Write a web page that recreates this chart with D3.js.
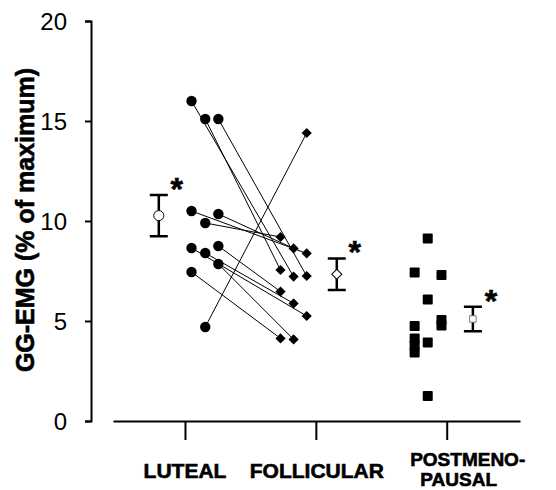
<!DOCTYPE html>
<html>
<head>
<meta charset="utf-8">
<script src="https://cdn.jsdelivr.net/npm/d3@7"></script>
<style>
  body { margin: 0; background: #fff; }
  text { font-family: "Liberation Sans", Arial, Helvetica, sans-serif; fill: #000; }
  .axis path, .axis line { stroke: #000; stroke-width: 2; }
  .axis text { font-size: 24px; }
  .heavy { font-weight: bold; stroke: #000; stroke-width: 0.6; }
  .pair { stroke: #000; stroke-width: 1; }
  .bar { stroke: #000; stroke-width: 2.5; fill: none; }
</style>
</head>
<body>
<div id="chart"></div>
<script>
var width = 556,
    height = 490;

// groups along the x axis
var groups = ["LUTEAL", "FOLLICULAR", "POSTMENOPAUSAL"];
var groupLabels = [["LUTEAL"], ["FOLLICULAR"], ["POSTMENO-", "PAUSAL"]];

// paired subjects, luteal vs follicular (% of maximum)
var lutealValues     = [16.0, 15.1, 15.1, 10.5, 10.35, 9.9, 8.65, 8.4, 8.75, 7.85, 7.45, 4.7];
var lutealSlot       = [0, 1, 2, 0, 2, 1, 0, 1, 2, 2, 0, 1];
var follicularValues = [7.22, 7.55, 7.25, 8.38, 8.63, 9.2, 5.25, 5.88, 6.47, 4.08, 4.13, 14.4];
var follicularSlot   = [1, 0, 2, 2, 1, 0, 2, 1, 0, 1, 0, 2];

// postmenopausal subjects
var postValues = [9.13, 7.43, 7.3, 6.08, 5.05, 4.77, 4.75, 4.13, 3.78, 3.43, 3.92, 1.25];
var postSlot   = [1, 0, 2, 1, 2, 2, 0, 0, 0, 0, 1, 1];

// group mean and SEM
var means = [10.27, 7.34, 5.1];
var sems  = [1.03, 0.79, 0.61];

var yTicks = [0, 5, 10, 15, 20];

// small horizontal offsets so the marks sit beside the tick
var slotOffset = [[0.05, 0.155, 0.255], [-0.27, -0.17, -0.07], [-0.245, -0.145, -0.04]];
var meanOffset = [-0.2, 0.16, 0.2];

var x = d3.scaleLinear().domain([-0.55, 2.56]).range([113, 520]);
var y = d3.scaleLinear().domain([0, 20]).range([421, 21]);

var svg = d3.select("#chart").append("svg")
    .attr("width", width)
    .attr("height", height);

// y axis
svg.append("g")
    .attr("class", "axis")
    .attr("transform", "translate(91,0)")
    .call(d3.axisLeft(y).tickValues(yTicks).tickSize(6).tickPadding(18))
    .selectAll("text").attr("dy", "0.36em");

// x axis, no end ticks
svg.append("g")
    .attr("class", "axis")
    .attr("transform", "translate(0,421)")
    .call(d3.axisBottom(x).tickValues([0, 1, 2]).tickSizeInner(19).tickSizeOuter(0).tickFormat(""));

var labelBase = [478, 478, 466],
    labelSize = [21, 21, 19],
    labelShift = [[0], [1], [21, 12]];
groupLabels.forEach(function(lines, i) {
  var t = svg.append("text")
      .attr("class", "heavy")
      .attr("text-anchor", "middle")
      .style("font-size", labelSize[i] + "px");
  lines.forEach(function(s, j) {
    t.append("tspan")
        .attr("x", x(i) + labelShift[i][j])
        .attr("y", labelBase[i] + j * 20)
        .text(s);
  });
});

// y axis title
svg.append("text")
    .attr("class", "heavy")
    .attr("transform", "translate(34,220) rotate(-90)")
    .attr("text-anchor", "middle")
    .style("font-size", "25px")
    .text("GG-EMG (% of maximum)");

// pairs
var subjects = lutealValues.map(function(v, i) {
  return {
    x1: x(0 + slotOffset[0][lutealSlot[i]]), y1: y(v),
    x2: x(1 + slotOffset[1][follicularSlot[i]]), y2: y(follicularValues[i])
  };
});

svg.append("g").selectAll("line")
    .data(subjects)
  .enter().append("line")
    .attr("class", "pair")
    .attr("x1", function(d) { return d.x1; })
    .attr("y1", function(d) { return d.y1; })
    .attr("x2", function(d) { return d.x2; })
    .attr("y2", function(d) { return d.y2; });

svg.append("g").selectAll("circle")
    .data(subjects)
  .enter().append("circle")
    .attr("cx", function(d) { return d.x1; })
    .attr("cy", function(d) { return d.y1; })
    .attr("r", 5.2)
    .attr("fill", "#000");

var diamond = d3.symbol().type(d3.symbolSquare).size(52);
svg.append("g").selectAll("path")
    .data(subjects)
  .enter().append("path")
    .attr("d", diamond)
    .attr("transform", function(d) { return "translate(" + d.x2 + "," + d.y2 + ") rotate(45)"; })
    .attr("fill", "#000");

svg.append("g").selectAll("rect")
    .data(postValues)
  .enter().append("rect")
    .attr("x", function(d, i) { return x(2 + slotOffset[2][postSlot[i]]) - 5; })
    .attr("y", function(d) { return y(d) - 5; })
    .attr("width", 10)
    .attr("height", 10)
    .attr("rx", 1)
    .attr("fill", "#000");

// means with SEM bars
var meanG = svg.append("g").selectAll("g")
    .data(means)
  .enter().append("g")
    .attr("transform", function(d, i) { return "translate(" + x(i + meanOffset[i]) + ",0)"; });

meanG.append("path")
    .attr("class", "bar")
    .attr("d", function(d, i) {
      var t = y(d + sems[i]), b = y(d - sems[i]);
      return "M-9," + t + "H9M0," + t + "V" + b + "M-9," + b + "H9";
    });

meanG.append("path")
    .attr("d", function(d, i) {
      var sym = [d3.symbolCircle, d3.symbolSquare, d3.symbolSquare][i];
      var size = [80, 50, 42][i];
      return d3.symbol().type(sym).size(size)();
    })
    .attr("transform", function(d, i) { return "translate(0," + y(d) + ")" + (i == 1 ? " rotate(45)" : ""); })
    .attr("fill", "#fff")
    .attr("stroke", function(d, i) { return i == 2 ? "#777" : "#000"; })
    .attr("stroke-width", 1);

meanG.append("text")
    .attr("class", "heavy")
    .attr("x", 18)
    .attr("y", function(d, i) { return y(d + sems[i]) + 5; })
    .attr("text-anchor", "middle")
    .style("font-size", "32px")
    .text("*");
</script>
</body>
</html>
